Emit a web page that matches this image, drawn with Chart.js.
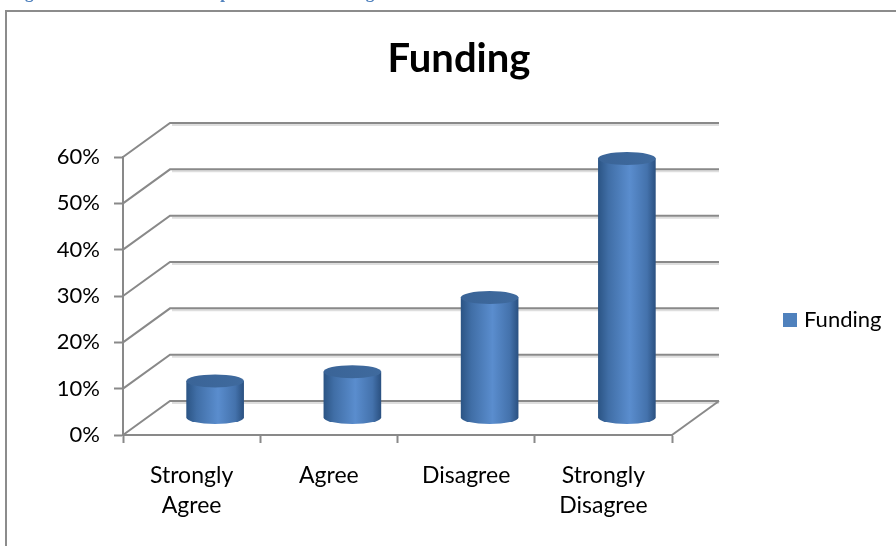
<!DOCTYPE html>
<html>
<head>
<meta charset="utf-8">
<script src="https://cdn.jsdelivr.net/npm/chart.js@4.4.1/dist/chart.umd.min.js"></script>
<style>
  html, body { margin: 0; padding: 0; background: #fff; }
  #wrap { position: relative; width: 896px; height: 546px; overflow: hidden; }
  #caption { position: absolute; left: 10px; top: -17px; font: bold 17px "Liberation Serif", serif; color: #4f81bd; white-space: nowrap; line-height: 20px; }
  canvas { position: absolute; left: 0; top: 0; }
</style>
</head>
<body>
<div id="wrap">
  <canvas id="fundingChart" width="896" height="546"></canvas>
  <div id="caption">Figure 4.10: Views of the Respondents on Funding</div>
</div>
<script>
// Datos del gráfico
const categories = [['Strongly', 'Agree'], 'Agree', 'Disagree', ['Strongly', 'Disagree']];
const fundingValues = [8, 10, 26, 56];
const seriesName = 'Funding';
const chartTitle = 'Funding';

const DX = 47, DY = -34;      // profundidad 3D
const gridGray = '#898989';
const blue = '#4f81bd';

// Pared trasera, suelo y cilindros
const threeD = {
    id: 'threeD',
    beforeDraw(chart) {
        const ctx = chart.ctx;
        ctx.save();
        ctx.strokeStyle = '#8c8c8c';
        ctx.lineWidth = 2;
        ctx.beginPath();
        ctx.moveTo(6, 600);
        ctx.lineTo(6, 11);
        ctx.lineTo(900, 11);
        ctx.stroke();
        ctx.restore();
    },
    beforeDatasetsDraw(chart) {
        const { ctx, chartArea: a, scales: { y } } = chart;
        ctx.save();
        ctx.lineWidth = 2;
        y.ticks.forEach(t => {
            const py = y.getPixelForValue(t.value);
            ctx.strokeStyle = '#dedede';
            ctx.beginPath();
            ctx.moveTo(a.left + DX + 2, py + DY + 2);
            ctx.lineTo(a.right + DX, py + DY + 2);
            ctx.stroke();
            ctx.strokeStyle = gridGray;
            ctx.beginPath();
            ctx.moveTo(a.left, py);
            ctx.lineTo(a.left + DX, py + DY);
            ctx.lineTo(a.right + DX, py + DY);
            ctx.stroke();
        });
        ctx.beginPath();
        ctx.moveTo(a.right, a.bottom);
        ctx.lineTo(a.right + DX, a.bottom + DY);
        ctx.stroke();
        ctx.restore();
    },
    afterDatasetsDraw(chart) {
        const ctx = chart.ctx;
        const meta = chart.getDatasetMeta(0);
        meta.data.forEach(bar => {
            const cx = bar.x + DX / 2;
            const top = bar.y + DY / 2;
            const base = bar.base + DY / 2;
            const rx = bar.width / 2, ry = 6.5;
            ctx.save();
            const g = ctx.createLinearGradient(cx - rx, 0, cx + rx, 0);
            g.addColorStop(0, '#2b5484');
            g.addColorStop(0.18, '#406ea6');
            g.addColorStop(0.55, '#5a8dce');
            g.addColorStop(0.85, '#4472ac');
            g.addColorStop(1, '#2a5080');
            ctx.fillStyle = g;
            ctx.beginPath();
            ctx.moveTo(cx - rx, top);
            ctx.lineTo(cx - rx, base);
            ctx.ellipse(cx, base, rx, ry, 0, Math.PI, 0, true);
            ctx.lineTo(cx + rx, top);
            ctx.closePath();
            ctx.fill();
            const tg = ctx.createLinearGradient(cx - rx, top, cx + rx, top);
            tg.addColorStop(0, '#3a6497');
            tg.addColorStop(1, '#3f6a9e');
            ctx.fillStyle = tg;
            ctx.beginPath();
            ctx.ellipse(cx, top, rx, ry, 0, 0, Math.PI * 2);
            ctx.fill();
            ctx.restore();
        });
    },
    afterDraw(chart) {
        const ctx = chart.ctx;
        ctx.save();
        ctx.fillStyle = '#000';
        ctx.font = 'bold 40px Lato';
        ctx.textAlign = 'center';
        ctx.textBaseline = 'alphabetic';
        ctx.fillText(chartTitle, 459, 72);
        ctx.fillStyle = blue;
        ctx.fillRect(783, 313, 14, 14);
        ctx.fillStyle = '#000';
        ctx.font = '22px Lato';
        ctx.textAlign = 'left';
        ctx.textBaseline = 'middle';
        ctx.fillText(seriesName, 804, 320);
        ctx.restore();
    }
};

new Chart(document.getElementById('fundingChart'), {
    type: 'bar',
    data: {
        labels: categories,
        datasets: [{
            label: seriesName,
            data: fundingValues,
            backgroundColor: 'rgba(0,0,0,0)',
            categoryPercentage: 1,
            barPercentage: 0.42
        }]
    },
    options: {
        responsive: false,
        animation: false,
        layout: { padding: { top: 157, right: 224, bottom: 0, left: 0 } },
        plugins: {
            legend: { display: false },
            title: { display: false },
            tooltip: { enabled: false }
        },
        scales: {
            x: {
                grid: { offset: true, drawOnChartArea: false, tickLength: 8, tickColor: gridGray, tickWidth: 2 },
                border: { color: gridGray, width: 2 },
                ticks: { padding: 18, color: '#000', maxRotation: 0, autoSkip: false,
                         font: { family: 'Lato', size: 23, lineHeight: 1.3 } },
                afterFit: s => { s.height = 111; }
            },
            y: {
                min: 0,
                max: 60,
                grid: { drawOnChartArea: false, tickLength: 9, tickColor: gridGray, tickWidth: 2 },
                border: { color: gridGray, width: 2 },
                ticks: { stepSize: 10, padding: 14, color: '#000',
                         font: { family: 'Lato', size: 22 },
                         callback: v => v + '%' },
                afterFit: s => { s.width = 123; }
            }
        }
    },
    plugins: [threeD]
});
</script>
</body>
</html>
